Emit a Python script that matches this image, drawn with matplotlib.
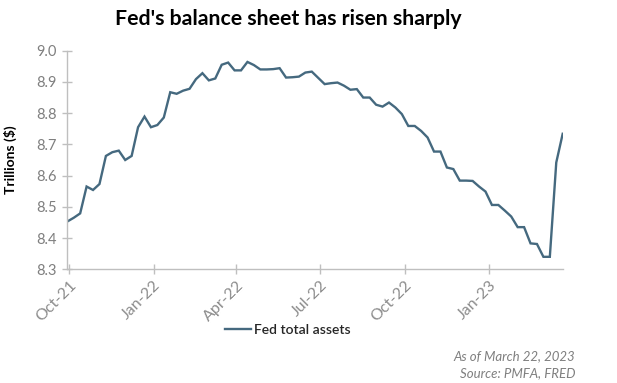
import matplotlib
matplotlib.use("Agg")
import matplotlib.pyplot as plt
import matplotlib.dates as mdates
import numpy as np
import pandas as pd

plt.rcParams['font.family'] = ['Lato', 'DejaVu Sans']

# Weekly Fed total assets (trillions $), Wednesdays
start_date = "2021-09-29"
assets = [8.453, 8.465, 8.479, 8.565, 8.554, 8.573, 8.663, 8.675, 8.680, 8.650,
          8.663, 8.755, 8.789, 8.755, 8.762, 8.786, 8.867, 8.862, 8.872, 8.878,
          8.909, 8.928, 8.905, 8.911, 8.955, 8.962, 8.937, 8.937, 8.964, 8.954,
          8.940, 8.940, 8.941, 8.944, 8.914, 8.915, 8.917, 8.930, 8.933, 8.913,
          8.893, 8.896, 8.898, 8.888, 8.875, 8.877, 8.850, 8.850, 8.827, 8.821,
          8.834, 8.818, 8.797, 8.759, 8.759, 8.743, 8.722, 8.677, 8.677, 8.626,
          8.621, 8.584, 8.584, 8.583, 8.565, 8.549, 8.506, 8.506, 8.488, 8.469,
          8.435, 8.435, 8.383, 8.381, 8.340, 8.340, 8.642, 8.734]
dates = pd.date_range(start_date, periods=len(assets), freq="7D")

tick_dates = pd.to_datetime(["2021-10-01", "2022-01-01", "2022-04-01",
                             "2022-07-01", "2022-10-01", "2023-01-01"])
tick_labels = ["Oct-21", "Jan-22", "Apr-22", "Jul-22", "Oct-22", "Jan-23"]
y_ticks = [8.3, 8.4, 8.5, 8.6, 8.7, 8.8, 8.9, 9.0]

line_color = "#45697f"
axis_gray = "#bfbfbf"
text_gray = "#7f7f7f"

fig = plt.figure(figsize=(6.17, 3.83), dpi=100)
ax = fig.add_axes([67.3/617, 1-269.3/383, (562.7-67.3)/617, (269.3-50.7)/383])

ax.plot(dates, assets, color=line_color, lw=1.7, label="Fed total assets",
        solid_joinstyle="miter")

ax.set_xlim(dates[0], dates[-1])
ax.set_ylim(8.3, 9.0)
ax.set_yticks(y_ticks)
ax.set_yticklabels([f"{v:.1f}" for v in y_ticks])
ax.set_xticks(tick_dates)
ax.set_xticklabels(tick_labels, rotation=45, ha="right", rotation_mode="anchor")

for s in ["top", "right"]:
    ax.spines[s].set_visible(False)
for s in ["left", "bottom"]:
    ax.spines[s].set_color(axis_gray)
    ax.spines[s].set_linewidth(1.0)
ax.tick_params(axis="both", direction="inout", length=7, width=1.0,
               color=axis_gray, labelcolor=text_gray, labelsize=10.5)
ax.tick_params(axis="y", pad=4)
ax.tick_params(axis="x", pad=3, labelsize=11.5, labelcolor="#8c8c8c")

fig.text(288/617, 1-19/383, "Fed's balance sheet has risen sharply",
         ha="center", va="center", fontsize=15.3, fontweight="bold", color="black")
fig.text(10/617, 1-160/383, "Trillions ($)", rotation=90, ha="center", va="center",
         fontsize=10, fontweight="bold", color="black")

leg = ax.legend(loc="center", bbox_to_anchor=(288/617, 1-330/383),
                bbox_transform=fig.transFigure, frameon=False,
                handlelength=1.9, handletextpad=0.2, fontsize=10)
for t in leg.get_texts():
    t.set_color("#262626")
    t.set_fontweight("semibold")

fig.text(575/617, 1-356/383, "As of March 22, 2023", ha="right", va="center",
         fontsize=9.5, style="italic", color=text_gray)
fig.text(575/617, 1-373/383, "Source: PMFA, FRED", ha="right", va="center",
         fontsize=9.5, style="italic", color=text_gray)

fig.savefig("out.png", dpi=100)
